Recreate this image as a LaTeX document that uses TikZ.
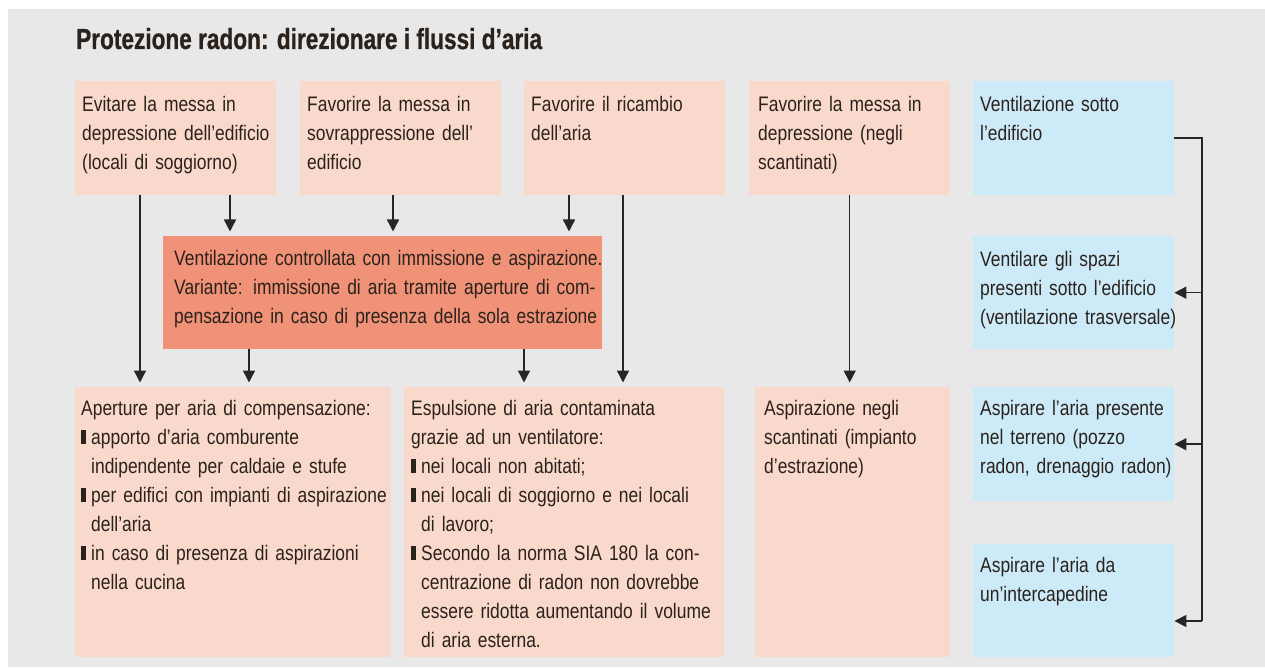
\documentclass[tikz,border=0pt]{standalone}
\usepackage{fontspec}
\usetikzlibrary{arrows.meta}
\newfontfamily\bodyfont{Liberation Sans}[FakeStretch=0.83,WordSpace=0.6]
\newfontfamily\titlefont{Liberation Sans}[FakeStretch=0.78,FakeBold=0.8]
\definecolor{bg}{HTML}{E8E8E8}
\definecolor{peach}{HTML}{F9D9CB}
\definecolor{salmon}{HTML}{EF9277}
\definecolor{sky}{HTML}{CDEAF9}
\definecolor{ink}{HTML}{2B221C}
\definecolor{wire}{HTML}{262626}
\newcommand\mybul{\rule{4.5pt}{14.5pt}\hspace{5.5pt}}
\newcommand\myind{\hspace*{10pt}}
\newcommand\textlines[1]{\begin{tabular}[t]{@{}l@{}}#1\end{tabular}}
\begin{document}
\begin{tikzpicture}[x=1pt,y=-1pt,
  card/.style={anchor=north west, inner xsep=7pt, inner ysep=0pt, text height=30pt,
    align=left, text=ink, font={\bodyfont\fontsize{21}{29}\selectfont}},
  wireline/.style={draw=wire, line width=1.5pt},
  varr/.style={wireline, -{Triangle[length=12pt,width=12pt]}, shorten >=4.5pt},
  harr/.style={wireline, -{Triangle[length=12pt,width=12pt]}}
]
\useasboundingbox (0,0) rectangle (1265,668);
\fill[bg] (8,9) rectangle (1265,667);

\node[anchor=base west, inner sep=0pt, text=ink,
  font={\titlefont\bfseries\fontsize{29}{34}\selectfont}] (title) at (76,49)
  {Protezione radon: direzionare i flussi d’aria};

% top row
\node[card, fill=peach, text width=187pt, text depth=84pt] (b1) at (75,81)
  {\textlines{Evitare la messa in\\depressione dell’edificio\\(locali di soggiorno)}};
\node[card, fill=peach, text width=187pt, text depth=84pt] (b2) at (300,81)
  {\textlines{Favorire la messa in\\sovrappressione dell’\\edificio}};
\node[card, fill=peach, text width=187pt, text depth=84pt] (b3) at (524,81)
  {\textlines{Favorire il ricambio\\dell’aria}};
\node[card, fill=peach, text depth=84pt, inner xsep=9pt, text width=183pt] (b4) at (749,81)
  {\textlines{Favorire la messa in\\depressione (negli\\scantinati)}};
\node[card, fill=sky, text width=187pt, text depth=84pt] (s1) at (973,81)
  {\textlines{Ventilazione sotto\\l’edificio}};

% middle
\node[card, fill=salmon, inner xsep=11pt, text width=417pt, text height=29pt, text depth=84pt] (mid) at (163,236)
  {\textlines{Ventilazione controllata con immissione e aspirazione.\\Variante: immissione di aria tramite aperture di com-\\pensazione in caso di presenza della sola estrazione}};
\node[card, fill=sky, text width=187pt, text depth=83pt] (s2) at (973,236)
  {\textlines{Ventilare gli spazi\\presenti sotto l’edificio\\(ventilazione trasversale)}};

% bottom row
\node[card, fill=peach, inner xsep=6pt, text width=304pt, text height=28pt, text depth=242pt] (bA) at (75,387)
  {\textlines{Aperture per aria di compensazione:\\
   \mybul apporto d’aria comburente\\
   \myind indipendente per caldaie e stufe\\
   \mybul per edifici con impianti di aspirazione\\
   \myind dell’aria\\
   \mybul in caso di presenza di aspirazioni\\
   \myind nella cucina}};
\node[card, fill=peach, text width=306pt, text height=28pt, text depth=242pt] (bB) at (404,387)
  {\textlines{Espulsione di aria contaminata\\
   grazie ad un ventilatore:\\
   \mybul nei locali non abitati;\\
   \mybul nei locali di soggiorno e nei locali\\
   \myind di lavoro;\\
   \mybul Secondo la norma SIA 180 la con-\\
   \myind centrazione di radon non dovrebbe\\
   \myind essere ridotta aumentando il volume\\
   \myind di aria esterna.}};
\node[card, fill=peach, inner xsep=9pt, text width=177pt, text height=28pt, text depth=242pt] (bC) at (755,387)
  {\textlines{Aspirazione negli\\scantinati (impianto\\d’estrazione)}};
\node[card, fill=sky, text width=187pt, text height=28pt, text depth=86pt] (s3) at (973,387)
  {\textlines{Aspirare l’aria presente\\nel terreno (pozzo\\radon, drenaggio radon)}};
\node[card, fill=sky, text width=187pt, text height=28pt, text depth=85pt] (s4) at (973,544)
  {\textlines{Aspirare l’aria da\\un’intercapedine}};

% connector positions
\coordinate (xa) at (140,0);
\coordinate (xb) at (230,0);
\coordinate (xc) at (393,0);
\coordinate (xd) at (569,0);
\coordinate (xe) at (249,0);
\coordinate (xf) at (524,0);
\coordinate (xg) at (623,0);
\coordinate (bus) at (1202,621);

\draw[varr] (b1.south -| xa) -- (bA.north -| xa);
\draw[varr] (b1.south -| xb) -- (mid.north -| xb);
\draw[varr] (b2.south -| xc) -- (mid.north -| xc);
\draw[varr] (b3.south -| xd) -- (mid.north -| xd);
\draw[varr] (mid.south -| xe) -- (bA.north -| xe);
\draw[varr] (mid.south -| xf) -- (bB.north -| xf);
\draw[varr] (b3.south -| xg) -- (bB.north -| xg);
\draw[varr] (b4.south) -- (bC.north -| b4.south);

\draw[wireline] (s1.east) -| (bus);
\draw[harr] (bus) -- (s4.east |- bus);
\draw[harr] (s2.east -| bus) -- (s2.east);
\draw[harr] (s3.east -| bus) -- (s3.east);
\end{tikzpicture}
\end{document}
